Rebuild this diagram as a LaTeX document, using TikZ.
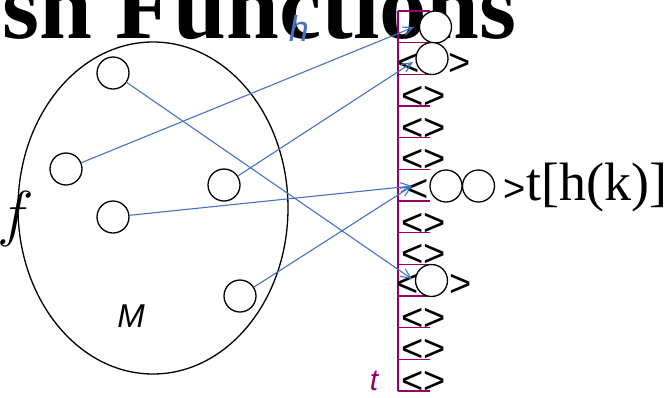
\RequirePackage{fix-cm}
\documentclass[tikz,border=0pt]{standalone}
\usepackage{fontspec}
\setmainfont{Liberation Serif}
\setsansfont{Liberation Sans}
\usetikzlibrary{arrows.meta,shapes.geometric}
\definecolor{mapblue}{HTML}{4472C4}
\definecolor{arraymag}{HTML}{990066}
\begin{document}
\begin{tikzpicture}[x=1pt,y=-1pt,
  dot/.style={circle,draw,line width=1.3pt,minimum size=32pt,inner sep=0pt},
  slot/.style={circle,draw,fill=white,line width=1.3pt,minimum size=32pt,inner sep=0pt},
  brk/.style={font=\sffamily\fontsize{38}{38}\selectfont,inner sep=0pt},
  map/.style={draw=mapblue,line width=1.1pt,-{Straight Barb[length=10pt,width=9pt]}},
  arr/.style={draw=arraymag,line width=1.4pt}]
\useasboundingbox (0,0) rectangle (671,397);
% title
\node[anchor=base east,inner sep=0pt,font=\fontsize{95}{95}\selectfont\bfseries] (title) at (517,38) {sh Functions};
% set M
\node[ellipse,draw,line width=1.3pt,minimum width=270pt,minimum height=332pt,inner sep=0pt] (M) at (153,208) {};
\node[font=\sffamily\itshape\fontsize{33}{33}\selectfont,inner sep=0pt] (Mlab) at (131,316) {M};
\node[anchor=base west,inner sep=0pt,font=\fontsize{62}{62}\selectfont] (flab) at (-3,234) {$f$};
\node[dot] (c1) at (113,73) {};
\node[dot] (c2) at (66,169) {};
\node[dot] (c3) at (224,185) {};
\node[dot] (c4) at (113,217) {};
\node[dot] (c5) at (240,296) {};
% array t
\draw[arr] (398,11) -- (398,391);
\foreach \i in {0,...,12} \draw[arr] (398,{11+31.667*\i}) -- (430,{11+31.667*\i});
\foreach \i in {3,4,5,7,8,10,11,12}
  \node[brk,anchor=base west] (b\i) at (401,{11+31.667*\i+2.5}) {<>};
% cell 2
\node[brk,anchor=base west] (l2) at (397,75.3) {<};
\node[brk,anchor=base east] (r2) at (471,75.3) {>};
% cell 6
\node[brk,anchor=base west] (l6) at (406,201.5) {<};
\node[brk,anchor=base east] (r6) at (526,201.5) {>};
% cell 9
\node[brk,anchor=base west] (l9) at (396,296.5) {<};
\node[brk,anchor=base east] (r9) at (472,296.5) {>};
\node[slot] (s1) at (435.5,27) {};
\node[slot] (s2) at (432,58.5) {};
\node[slot] (s6a) at (446,186) {};
\node[slot] (s6b) at (478.5,186) {};
\node[slot] (s9) at (431.5,280.5) {};
\node[anchor=base west,inner sep=0pt,font=\fontsize{54}{54}\selectfont] (thk) at (526,200) {t[h(k)]};
% arrows
\coordinate (p1) at (414,27);
\coordinate (p2) at (413,62);
\coordinate (p6) at (412,186);
\coordinate (p9) at (412,279);
\draw[map] (c2) -- (p1);
\draw[map] (c3) -- (p2);
\draw[map] (c4) -- (p6);
\draw[map] (c5) -- (p6);
\draw[map] (c1) -- (p9);
% labels
\node[font=\sffamily\itshape\fontsize{36}{36}\selectfont,text=mapblue,inner sep=0pt] (hlab) at (299,28.5) {h};
\node[font=\sffamily\itshape\fontsize{30}{30}\selectfont,text=arraymag,inner sep=0pt] (tlab) at (374,381) {t};
\end{tikzpicture}
\end{document}
